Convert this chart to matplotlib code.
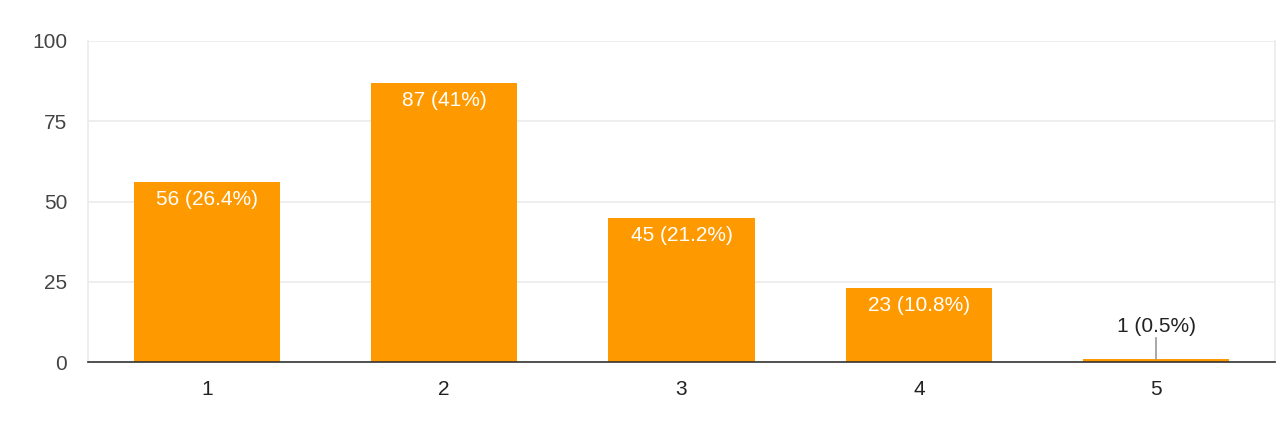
import matplotlib.pyplot as plt

categories = ["1", "2", "3", "4", "5"]
counts = [56, 87, 45, 23, 1]
percents = ["26.4%", "41%", "21.2%", "10.8%", "0.5%"]

plt.rcParams['font.family'] = ['Liberation Sans', 'DejaVu Sans']

fig = plt.figure(figsize=(12.88, 4.38), dpi=100)
ax = fig.add_axes([88 / 1288, 76 / 438, 1187 / 1288, 321 / 438])

x = list(range(len(categories)))
bars = ax.bar(x, counts, width=0.615, color='#ff9900', zorder=2)

ax.set_xlim(-0.5, 4.5)
ax.set_ylim(0, 100)
ax.set_yticks([0, 25, 50, 75, 100])
ax.set_xticks(x)
ax.set_xticklabels(categories)

ax.grid(axis='y', color='#ebebeb', lw=1.2, zorder=0)
ax.spines['top'].set_visible(False)
for s in ['left', 'right']:
    ax.spines[s].set_color('#ebebeb')
    ax.spines[s].set_linewidth(1.2)
ax.spines['bottom'].set_color('#333333')
ax.spines['bottom'].set_linewidth(1.2)
ax.spines['bottom'].set_zorder(3)
ax.tick_params(axis='both', length=0, labelsize=15)
ax.tick_params(axis='y', pad=15, labelcolor='#444444')
ax.tick_params(axis='x', pad=13, labelcolor='#222222')

for xi, c, p in zip(x, counts, percents):
    label = f"{c} ({p})"
    if c >= 10:
        ax.annotate(label, (xi, c), xytext=(0, -8), textcoords='offset pixels',
                    ha='center', va='top', color='white', fontsize=15, zorder=4)
    else:
        ax.annotate(label, (xi, c), xytext=(0, 32), textcoords='offset pixels',
                    ha='center', va='center', color='#222222', fontsize=15, zorder=4)
        ax.plot([xi, xi], [c, c + 6.5], color='#999999', lw=1.2, zorder=3)

fig.savefig('out.png', dpi=100)
